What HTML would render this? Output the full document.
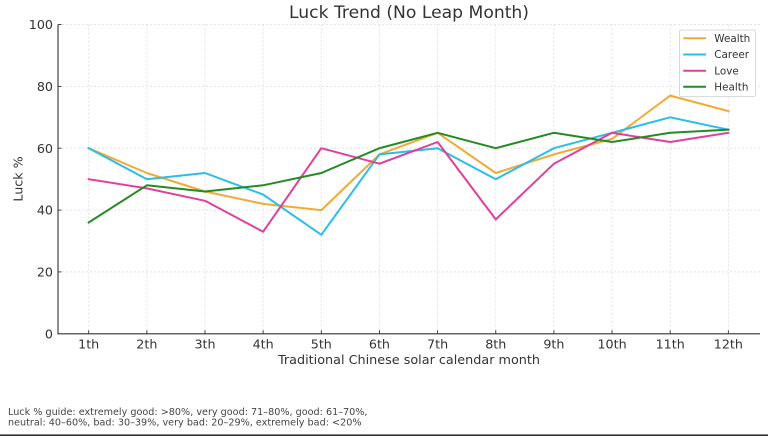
<!DOCTYPE html>
<html>
<head>
<meta charset="utf-8">
<style>
  html, body { margin:0; padding:0; background:#fff; }
  svg { display:block; }
  text { font-family: "DejaVu Sans", "Liberation Sans", sans-serif; fill:#333; }
</style>
</head>
<body>
<svg width="768" height="436" viewBox="0 0 768 436" xmlns="http://www.w3.org/2000/svg">
  <rect x="0" y="0" width="768" height="436" fill="#fff"/>

  <!-- grid -->
  <g stroke="#dcdcdc" stroke-width="0.8" stroke-dasharray="2,2" fill="none">
    <line x1="58" y1="24.5" x2="760" y2="24.5"/>
    <line x1="58" y1="86.4" x2="760" y2="86.4"/>
    <line x1="58" y1="148.2" x2="760" y2="148.2"/>
    <line x1="58" y1="210.1" x2="760" y2="210.1"/>
    <line x1="58" y1="271.9" x2="760" y2="271.9"/>
    <line x1="88.7" y1="24.5" x2="88.7" y2="333.8"/>
    <line x1="146.85" y1="24.5" x2="146.85" y2="333.8"/>
    <line x1="205" y1="24.5" x2="205" y2="333.8"/>
    <line x1="263.15" y1="24.5" x2="263.15" y2="333.8"/>
    <line x1="321.3" y1="24.5" x2="321.3" y2="333.8"/>
    <line x1="379.45" y1="24.5" x2="379.45" y2="333.8"/>
    <line x1="437.6" y1="24.5" x2="437.6" y2="333.8"/>
    <line x1="495.75" y1="24.5" x2="495.75" y2="333.8"/>
    <line x1="553.9" y1="24.5" x2="553.9" y2="333.8"/>
    <line x1="612.05" y1="24.5" x2="612.05" y2="333.8"/>
    <line x1="670.2" y1="24.5" x2="670.2" y2="333.8"/>
    <line x1="728.35" y1="24.5" x2="728.35" y2="333.8"/>
  </g>

  <!-- series -->
  <g fill="none" stroke-width="2" stroke-linejoin="round" stroke-linecap="square">
    <polyline stroke="#f2aa35" points="88.7,148.2 146.85,173.0 205,191.5 263.15,203.9 321.3,210.1 379.45,154.4 437.6,132.8 495.75,173.0 553.9,154.4 612.05,138.9 670.2,95.6 728.35,111.1"/>
    <polyline stroke="#2bbde8" points="88.7,148.2 146.85,179.2 205,173.0 263.15,194.6 321.3,234.8 379.45,154.4 437.6,148.2 495.75,179.2 553.9,148.2 612.05,132.8 670.2,117.3 728.35,129.7"/>
    <polyline stroke="#e0409c" points="88.7,179.2 146.85,188.4 205,200.8 263.15,231.7 321.3,148.2 379.45,163.7 437.6,142.0 495.75,219.4 553.9,163.7 612.05,132.8 670.2,142.0 728.35,132.8"/>
    <polyline stroke="#238b23" points="88.7,222.5 146.85,185.3 205,191.5 263.15,185.3 321.3,173.0 379.45,148.2 437.6,132.8 495.75,148.2 553.9,132.8 612.05,142.0 670.2,132.8 728.35,129.7"/>
  </g>

  <!-- spines -->
  <g stroke="#333" stroke-width="1.1">
    <line x1="58" y1="24.5" x2="58" y2="334.3"/>
    <line x1="57.5" y1="333.8" x2="760" y2="333.8"/>
  </g>

  <!-- ticks (inward) -->
  <g stroke="#333" stroke-width="0.9">
    <line x1="58" y1="24.5" x2="61.5" y2="24.5"/>
    <line x1="58" y1="86.4" x2="61.5" y2="86.4"/>
    <line x1="58" y1="148.2" x2="61.5" y2="148.2"/>
    <line x1="58" y1="210.1" x2="61.5" y2="210.1"/>
    <line x1="58" y1="271.9" x2="61.5" y2="271.9"/>
    <line x1="88.7" y1="333.8" x2="88.7" y2="330.3"/>
    <line x1="146.85" y1="333.8" x2="146.85" y2="330.3"/>
    <line x1="205" y1="333.8" x2="205" y2="330.3"/>
    <line x1="263.15" y1="333.8" x2="263.15" y2="330.3"/>
    <line x1="321.3" y1="333.8" x2="321.3" y2="330.3"/>
    <line x1="379.45" y1="333.8" x2="379.45" y2="330.3"/>
    <line x1="437.6" y1="333.8" x2="437.6" y2="330.3"/>
    <line x1="495.75" y1="333.8" x2="495.75" y2="330.3"/>
    <line x1="553.9" y1="333.8" x2="553.9" y2="330.3"/>
    <line x1="612.05" y1="333.8" x2="612.05" y2="330.3"/>
    <line x1="670.2" y1="333.8" x2="670.2" y2="330.3"/>
    <line x1="728.35" y1="333.8" x2="728.35" y2="330.3"/>
  </g>

  <!-- y tick labels -->
  <g font-size="12.7" text-anchor="end">
    <text x="53" y="29.1">100</text>
    <text x="53" y="91">80</text>
    <text x="53" y="152.8">60</text>
    <text x="53" y="214.7">40</text>
    <text x="53" y="276.5">20</text>
    <text x="53" y="338.4">0</text>
  </g>

  <!-- x tick labels -->
  <g font-size="12.7" text-anchor="middle">
    <text x="88.7" y="348.6">1th</text>
    <text x="146.85" y="348.6">2th</text>
    <text x="205" y="348.6">3th</text>
    <text x="263.15" y="348.6">4th</text>
    <text x="321.3" y="348.6">5th</text>
    <text x="379.45" y="348.6">6th</text>
    <text x="437.6" y="348.6">7th</text>
    <text x="495.75" y="348.6">8th</text>
    <text x="553.9" y="348.6">9th</text>
    <text x="612.05" y="348.6">10th</text>
    <text x="670.2" y="348.6">11th</text>
    <text x="728.35" y="348.6">12th</text>
  </g>

  <!-- axis labels -->
  <text x="409" y="364" font-size="12.7" text-anchor="middle" textLength="262" lengthAdjust="spacingAndGlyphs">Traditional Chinese solar calendar month</text>
  <text x="0" y="0" font-size="12.7" text-anchor="middle" transform="translate(22.4,179) rotate(-90)">Luck %</text>

  <!-- title -->
  <text x="409" y="18" font-size="16.7" text-anchor="middle" textLength="240" lengthAdjust="spacingAndGlyphs">Luck Trend (No Leap Month)</text>

  <!-- legend -->
  <rect x="679.5" y="30" width="76" height="66.7" rx="2" ry="2" fill="#fff" fill-opacity="0.85" stroke="#d0d0d0" stroke-width="0.8"/>
  <g stroke-width="2">
    <line x1="683.3" y1="38.3" x2="706" y2="38.3" stroke="#f2aa35"/>
    <line x1="683.3" y1="54.5" x2="706" y2="54.5" stroke="#2bbde8"/>
    <line x1="683.3" y1="70.7" x2="706" y2="70.7" stroke="#e0409c"/>
    <line x1="683.3" y1="86.8" x2="706" y2="86.8" stroke="#238b23"/>
  </g>
  <g font-size="10.4">
    <text x="714.3" y="42">Wealth</text>
    <text x="714.3" y="58.2">Career</text>
    <text x="714.3" y="74.4">Love</text>
    <text x="714.3" y="90.5">Health</text>
  </g>

  <!-- footnote -->
  <g font-size="9.3" style="fill:#444">
    <text x="8" y="415" textLength="359.5" lengthAdjust="spacingAndGlyphs" style="fill:#444">Luck % guide: extremely good: &gt;80%, very good: 71–80%, good: 61–70%,</text>
    <text x="8" y="425.6" textLength="353.5" lengthAdjust="spacingAndGlyphs" style="fill:#444">neutral: 40–60%, bad: 30–39%, very bad: 20–29%, extremely bad: &lt;20%</text>
  </g>

  <!-- bottom rule -->
  <rect x="0" y="434.4" width="768" height="1.6" fill="#333"/>
</svg>
</body>
</html>
